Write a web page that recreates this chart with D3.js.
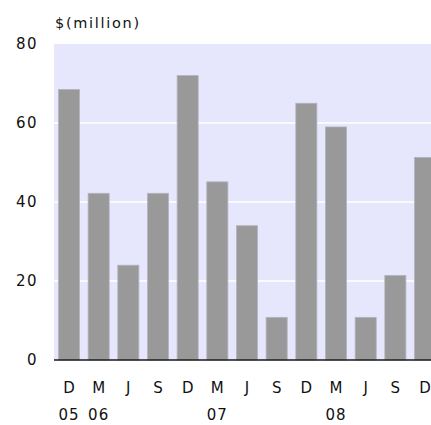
<!DOCTYPE html>
<html>
<head>
<meta charset="utf-8">
<script src="https://cdn.jsdelivr.net/npm/d3@7"></script>
<style>
  html, body { margin: 0; padding: 0; background: #fff; }
  svg { display: block; }
  text { font-family: "DejaVu Sans", Verdana, sans-serif; fill: #111; }
</style>
</head>
<body>
<div id="chart"></div>
<script>
// Quarterly values, $ million
const quarters = ["D", "M", "J", "S", "D", "M", "J", "S", "D", "M", "J", "S", "D"];
const years    = ["05", "06", "", "", "", "07", "", "", "", "08", "", "", ""];
const values   = [68.5, 42.2, 24, 42.2, 72, 45.1, 34, 10.8, 65, 59, 10.8, 21.4, 51.3];
const yTicks   = [0, 20, 40, 60, 80];

const width = 431, height = 425;
const plot = { left: 54, top: 44, right: 440, bottom: 360 };
const FONT = "DejaVu Sans, Verdana, sans-serif";

const svg = d3.select("#chart").append("svg")
  .attr("width", width).attr("height", height);

const x = d3.scaleBand()
  .domain(d3.range(values.length))
  .range([plot.left, plot.right])
  .paddingInner(0.29)
  .paddingOuter(0.15);

const y = d3.scaleLinear().domain([0, 80]).range([plot.bottom, plot.top]);

// plot background
svg.append("rect")
  .attr("x", plot.left).attr("y", plot.top)
  .attr("width", width - plot.left).attr("height", plot.bottom - plot.top)
  .attr("fill", "#e6e6fc");

// horizontal gridlines
svg.append("g").selectAll("line")
  .data(yTicks.filter(d => d > 0 && d < 80))
  .join("line")
  .attr("x1", plot.left).attr("x2", width)
  .attr("y1", d => y(d)).attr("y2", d => y(d))
  .attr("stroke", "#ffffff").attr("stroke-width", 1.5);

// bars
svg.append("g").selectAll("rect")
  .data(values)
  .join("rect")
  .attr("x", (d, i) => x(i))
  .attr("y", d => y(d))
  .attr("width", x.bandwidth())
  .attr("height", d => y(0) - y(d))
  .attr("fill", "#999999")
  .attr("stroke", "#b4b4c0")
  .attr("stroke-width", 0.8);

// baseline
svg.append("line")
  .attr("x1", plot.left).attr("x2", width)
  .attr("y1", y(0)).attr("y2", y(0))
  .attr("stroke", "#1a1a1a").attr("stroke-width", 1.6);

// y axis labels
const yAxis = d3.axisLeft(y).tickValues(yTicks).tickSize(0).tickPadding(16);
const gy = svg.append("g").attr("transform", `translate(${plot.left},0)`).call(yAxis);
gy.select(".domain").remove();
gy.selectAll("text")
  .attr("font-size", 15).attr("letter-spacing", 1.5)
  .attr("font-family", FONT)
  .attr("fill", "#111");

// unit label
svg.append("text")
  .attr("x", 55).attr("y", 28)
  .attr("font-size", 14.5).attr("letter-spacing", 1.7)
  .text("$(million)");

// quarter labels
const xAxis = d3.axisBottom(x).tickFormat(i => quarters[i]).tickSize(0).tickPadding(22);
const gx = svg.append("g").attr("transform", `translate(0,${plot.bottom})`).call(xAxis);
gx.select(".domain").remove();
gx.selectAll("text")
  .attr("font-size", 15)
  .attr("font-family", FONT)
  .attr("fill", "#111");

// year labels
svg.append("g").selectAll("text")
  .data(years)
  .join("text")
  .attr("x", (d, i) => x(i) + x.bandwidth() / 2)
  .attr("y", 420)
  .attr("text-anchor", "middle")
  .attr("font-size", 15).attr("letter-spacing", 1)
  .text(d => d);
</script>
</body>
</html>
